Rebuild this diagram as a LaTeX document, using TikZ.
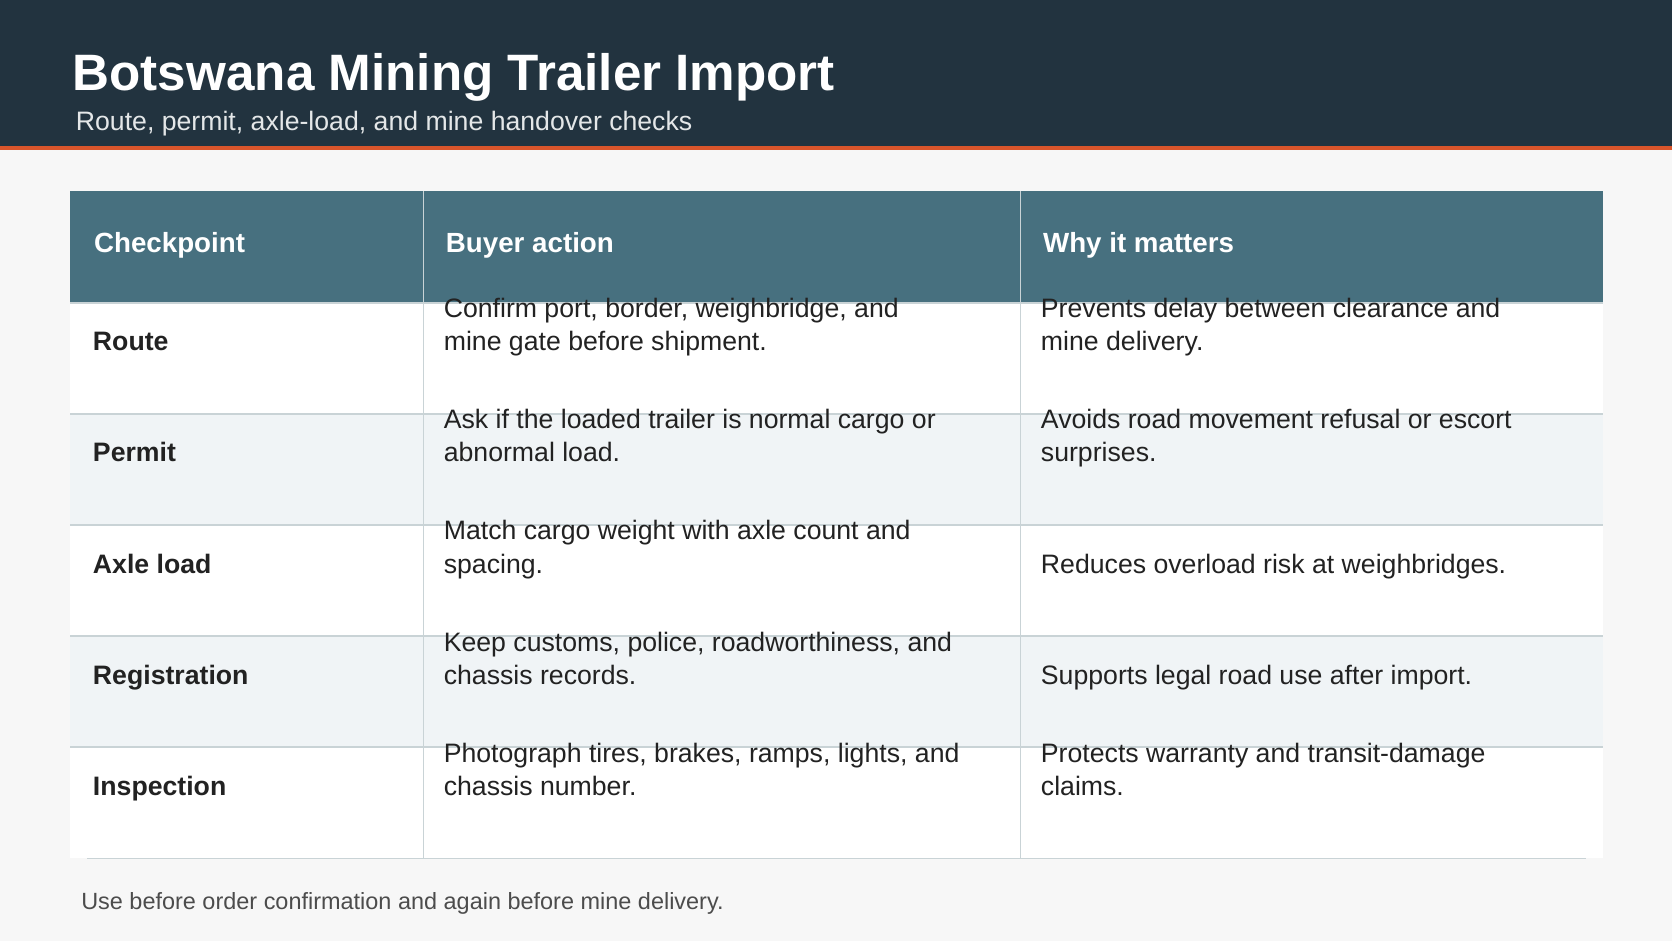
\documentclass[tikz,border=0pt]{standalone}
\usepackage{fontspec}
\setmainfont{Liberation Sans}
\definecolor{hdr}{HTML}{22333F}
\definecolor{accent}{HTML}{D9552B}
\definecolor{bg}{HTML}{F7F7F7}
\definecolor{thead}{HTML}{47707F}
\definecolor{alt}{HTML}{F0F4F6}
\definecolor{grid}{HTML}{C9D3D6}
\definecolor{txt}{HTML}{222222}
\begin{document}
\begin{tikzpicture}[x=1pt,y=-1pt,
  cell/.style={anchor=base west,inner sep=0pt,text=txt,font=\fontsize{25}{31}\selectfont,align=left},
  lbl/.style={cell,font=\fontsize{25}{31}\selectfont\bfseries},
  head/.style={anchor=base west,inner sep=0pt,text=white,font=\fontsize{26}{31}\selectfont\bfseries}]
\useasboundingbox (0,0) rectangle (1568,882);
\fill[bg] (0,0) rectangle (1568,882);
\fill[hdr] (0,0) rectangle (1568,137);
\fill[accent] (0,137) rectangle (1568,141);
\node[anchor=base west,inner sep=0pt,text=white,font=\fontsize{48}{50}\selectfont\bfseries] (title) at (68,85) {Botswana Mining Trailer Import};
\node[anchor=base west,inner sep=0pt,text=white!88!hdr,font=\fontsize{25}{30}\selectfont] (sub) at (71,122) {Route, permit, axle-load, and mine handover checks};
% table
\fill[thead] (66,179) rectangle (1503,284);
\foreach \i/\c in {0/white,1/alt,2/white,3/alt,4/white}{
  \fill[\c] (66,284+104.2*\i) rectangle (1503,388.2+104.2*\i);
}
\foreach \i in {1,2,3,4}{ \draw[grid,line width=1.5pt] (66,284+104.2*\i) -- (1503,284+104.2*\i); }
\draw[grid,line width=1.5pt] (66,284) -- (1503,284);
\draw[grid,line width=1pt] (82,805) -- (1487,805);
\draw[grid,line width=1.5pt] (397,179) -- (397,805);
\draw[grid,line width=1.5pt] (957,179) -- (957,805);
\node[head] (h1) at (88,237) {Checkpoint};
\node[head] (h2) at (418,237) {Buyer action};
\node[head] (h3) at (978,237) {Why it matters};
\foreach \i/\a/\b/\c in {
 0/Route/{Confirm port, border, weighbridge, and\\mine gate before shipment.}/{Prevents delay between clearance and\\mine delivery.},
 1/Permit/{Ask if the loaded trailer is normal cargo or\\abnormal load.}/{Avoids road movement refusal or escort\\surprises.},
 2/Axle load/{Match cargo weight with axle count and\\spacing.}/{Reduces overload risk at weighbridges.},
 3/Registration/{Keep customs, police, roadworthiness, and\\chassis records.}/{Supports legal road use after import.},
 4/Inspection/{Photograph tires, brakes, ramps, lights, and\\chassis number.}/{Protects warranty and transit-damage\\claims.}}{
  \node[lbl] (l\i) at (87,329+104.2*\i) {\a};
  \node[cell] (b\i) at (416,329+104.2*\i) {\b};
  \node[cell] (c\i) at (976,329+104.2*\i) {\c};
}
\node[anchor=base west,inner sep=0pt,text=black!70,font=\fontsize{22}{26}\selectfont] (foot) at (76,853) {Use before order confirmation and again before mine delivery.};
\end{tikzpicture}
\end{document}
